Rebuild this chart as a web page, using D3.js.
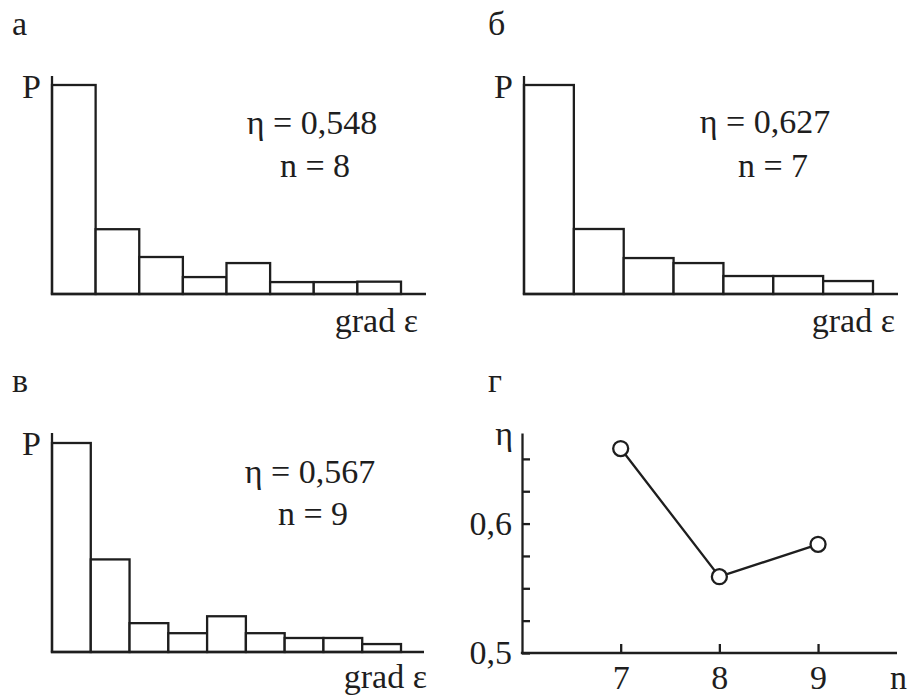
<!DOCTYPE html>
<html>
<head>
<meta charset="utf-8">
<script src="https://cdn.jsdelivr.net/npm/d3@7"></script>
</head>
<body style="margin:0">
<script>
// Histogram values (relative P, tallest bin = 100)
const histA = [100, 31, 17.7, 8.1, 14.8, 5.7, 5.7, 5.9];
const histB = [100, 31.1, 17.2, 14.8, 8.6, 8.6, 6.2];
const histC = [100, 44.3, 13.8, 9, 17.1, 9, 6.7, 6.7, 3.8];

const etaLabels = ["η = 0,548", "η = 0,627", "η = 0,567"];
const nLabels = ["n = 8", "n = 7", "n = 9"];
const panelLetters = ["а", "б", "в", "г"];

// Panel г: η versus n
const nValues = [7, 8, 9];
const etaValues = [0.658, 0.559, 0.584];
const etaTicks = [0.5, 0.525, 0.55, 0.575, 0.6, 0.625, 0.65];
const etaTickLabels = ["0,5", "", "", "", "0,6", "", ""];

const width = 909;
const height = 696;
const ink = '#1e1e1e';
const lw = 2.3;
const fs = 34;

const svg = d3.select('body')
    .append('svg')
    .attr('width', width)
    .attr('height', height);

function label(g, x, y, txt, anchor) {
    return g.append('text')
        .attr('x', x)
        .attr('y', y)
        .attr('font-size', fs)
        .attr('fill', ink)
        .attr('text-anchor', anchor || 'start')
        .style('font-family', '"Liberation Serif"')
        .text(txt);
}

// layout of each histogram panel
const histPanels = [
    { data: histA, x0: 52, base: 294, top: 76, xEnd: 426, label: [12, 35], P: [41, 98], grad: [418, 332], eta: [312, 134], n: [315, 177] },
    { data: histB, x0: 524, base: 294, top: 76, xEnd: 898, label: [488, 35], P: [513, 98], grad: [895, 332], eta: [765, 133], n: [773, 177] },
    { data: histC, x0: 52, base: 652, top: 433, xEnd: 424, label: [12, 392], P: [41, 455], grad: [427, 688], eta: [310, 483], n: [313, 525] }
];

histPanels.forEach((p, idx) => {
    const g = svg.append('g');

    const x = d3.scaleLinear()
        .domain([0, p.data.length])
        .range([p.x0, p.x0 + 349]);
    const y = d3.scaleLinear()
        .domain([0, 100])
        .range([p.base, p.base - 209]);

    g.selectAll('rect.bin')
        .data(p.data)
        .join('rect')
        .attr('class', 'bin')
        .attr('x', (d, i) => x(i))
        .attr('y', d => y(d))
        .attr('width', (d, i) => x(i + 1) - x(i))
        .attr('height', d => y(0) - y(d))
        .attr('fill', '#fff')
        .attr('stroke', ink)
        .attr('stroke-width', lw);

    // axes
    g.append('line')
        .attr('x1', p.x0).attr('x2', p.x0)
        .attr('y1', p.top).attr('y2', p.base)
        .attr('stroke', ink).attr('stroke-width', lw);
    g.append('line')
        .attr('x1', p.x0 - lw / 2).attr('x2', p.xEnd)
        .attr('y1', p.base).attr('y2', p.base)
        .attr('stroke', ink).attr('stroke-width', lw);

    label(g, p.label[0], p.label[1], panelLetters[idx]);
    label(g, p.P[0], p.P[1], 'P', 'end');
    label(g, p.grad[0], p.grad[1], 'grad ε', 'end');
    label(g, p.eta[0], p.eta[1], etaLabels[idx], 'middle');
    label(g, p.n[0], p.n[1], nLabels[idx], 'middle');
});

// Panel г
const gG = svg.append('g');

const xN = d3.scaleLinear().domain([6, 9.8]).range([522, 897]);
const yEta = d3.scaleLinear().domain([0.5, 0.67]).range([653, 433]);

const yAxis = d3.axisLeft(yEta)
    .tickValues(etaTicks)
    .tickFormat((d, i) => etaTickLabels[i])
    .tickSizeInner(-8)
    .tickSizeOuter(0)
    .tickPadding(10);

const xAxis = d3.axisBottom(xN)
    .tickValues(nValues)
    .tickFormat(d => d)
    .tickSizeInner(-9)
    .tickSizeOuter(0)
    .tickPadding(12);

const ya = gG.append('g')
    .attr('transform', `translate(${xN.range()[0]},0)`)
    .call(yAxis);
const xa = gG.append('g')
    .attr('transform', `translate(0,${yEta.range()[0]})`)
    .call(xAxis);

[ya, xa].forEach(a => {
    a.attr('font-size', fs);
    a.selectAll('path, line').attr('stroke', ink).attr('stroke-width', lw);
    a.selectAll('text')
        .attr('fill', ink)
        .style('font-family', '"Liberation Serif"');
});
xa.select('.domain').attr('d', `M${xN.range()[0] - lw / 2},0H${xN.range()[1]}`);

const line = d3.line()
    .x((d, i) => xN(nValues[i]))
    .y(d => yEta(d));

gG.append('path')
    .datum(etaValues)
    .attr('d', line)
    .attr('fill', 'none')
    .attr('stroke', ink)
    .attr('stroke-width', lw);

gG.selectAll('circle')
    .data(etaValues)
    .join('circle')
    .attr('cx', (d, i) => xN(nValues[i]))
    .attr('cy', d => yEta(d))
    .attr('r', 7.5)
    .attr('fill', '#fff')
    .attr('stroke', ink)
    .attr('stroke-width', lw);

label(gG, 488, 392, panelLetters[3]);
label(gG, 513, 445, 'η', 'end');
label(gG, 907, 689, 'n', 'end');
</script>
</body>
</html>
